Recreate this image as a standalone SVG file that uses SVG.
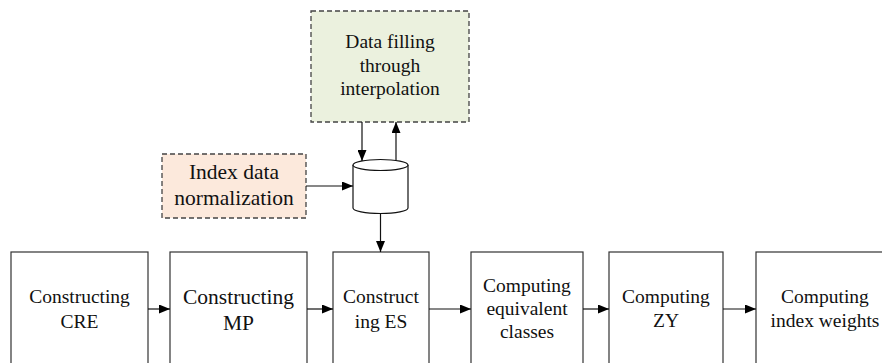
<svg xmlns="http://www.w3.org/2000/svg" width="882" height="363" viewBox="0 0 882 363">
<style>
.box{fill:#fff;stroke:#333;stroke-width:1.2}
.dash{stroke:#444;stroke-width:1.3;stroke-dasharray:5,3}
text{font-family:"Times New Roman","Liberation Serif",Tinos,"DejaVu Serif",serif;font-size:19.5px;fill:#111;text-anchor:middle}
.big{font-size:21.5px}
.ln{stroke:#111;stroke-width:1.2;fill:none;marker-end:url(#ah)}
</style>
<defs>
<marker id="ah" viewBox="0 0 11 9" refX="11" refY="4.5" markerWidth="11" markerHeight="9" markerUnits="userSpaceOnUse" orient="auto">
<path d="M0,0 L11,4.5 L0,9 Z" fill="#000"/>
</marker>
</defs>
<rect width="882" height="363" fill="#fff"/>
<g id="interp">
<rect x="311" y="11" width="158" height="111" fill="#ebf1de" class="dash"/>
<text x="390" y="48">Data filling</text>
<text x="390" y="72">through</text>
<text x="390" y="95">interpolation</text>
</g>
<g id="norm">
<rect x="162" y="154" width="144" height="64" fill="#fce9dc" class="dash"/>
<text class="big" x="234" y="179">Index data</text>
<text class="big" x="234" y="205">normalization</text>
</g>
<g id="db">
<path d="M353,165 L353,208 A27.5,5.5 0 0 0 408,208 L408,165" fill="#fff" stroke="#111" stroke-width="1.2"/>
<ellipse cx="380.5" cy="165" rx="27.5" ry="5.5" fill="#fff" stroke="#111" stroke-width="1.2"/>
</g>
<g id="cre">
<rect class="box" x="11" y="252" width="137" height="120"/>
<text x="79.5" y="303">Constructing</text>
<text x="79.5" y="328">CRE</text>
</g>
<g id="mp">
<rect class="box" x="170" y="252" width="137" height="120"/>
<text class="big" x="238.5" y="304">Constructing</text>
<text class="big" x="238.5" y="330">MP</text>
</g>
<g id="es">
<rect class="box" x="333" y="252" width="96" height="120"/>
<text x="381" y="303">Construct</text>
<text x="381" y="328">ing ES</text>
</g>
<g id="eq">
<rect class="box" x="471" y="252" width="112" height="120"/>
<text x="527" y="292">Computing</text>
<text x="527" y="315">equivalent</text>
<text x="527" y="338">classes</text>
</g>
<g id="zy">
<rect class="box" x="609" y="252" width="114" height="120"/>
<text x="666" y="303">Computing</text>
<text x="666" y="327">ZY</text>
</g>
<g id="weights">
<rect class="box" x="756" y="252" width="140" height="120"/>
<text x="825" y="303">Computing</text>
<text x="825" y="327">index weights</text>
</g>
<g id="connectors">
<line class="ln" x1="362" y1="122" x2="362" y2="161"/>
<line class="ln" x1="396" y1="160.5" x2="396" y2="122"/>
<line class="ln" x1="306" y1="186" x2="353" y2="186"/>
<line class="ln" x1="380.5" y1="213.5" x2="380.5" y2="252"/>
<line class="ln" x1="148" y1="309" x2="170" y2="309"/>
<line class="ln" x1="307" y1="309" x2="333" y2="309"/>
<line class="ln" x1="429" y1="309" x2="471" y2="309"/>
<line class="ln" x1="583" y1="309" x2="609" y2="309"/>
<line class="ln" x1="723" y1="309" x2="756" y2="309"/>
</g>
</svg>
